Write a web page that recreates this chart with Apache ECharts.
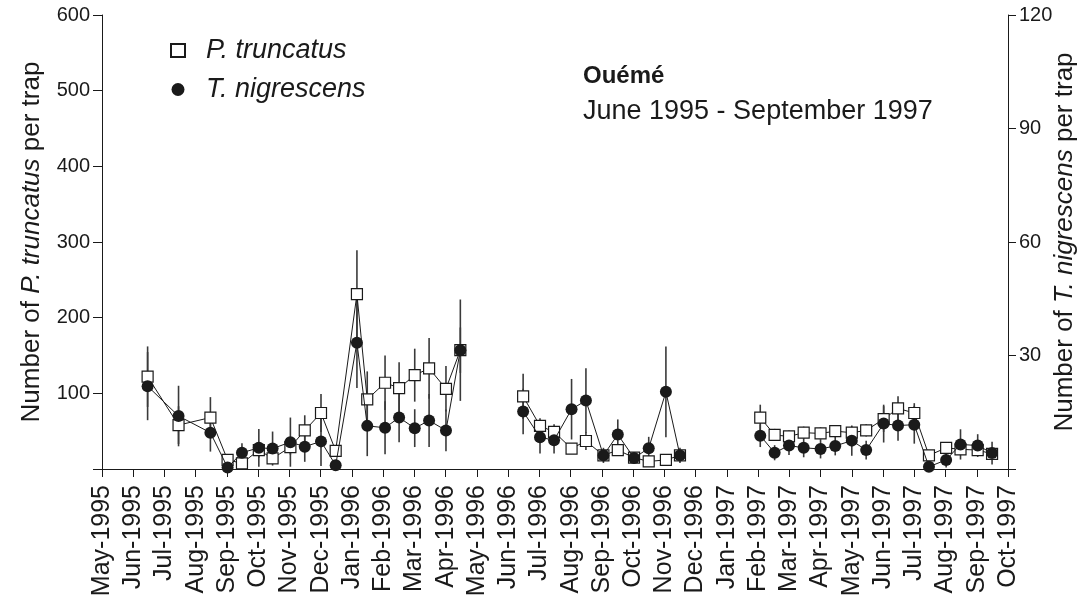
<!DOCTYPE html>
<html>
<head>
<meta charset="utf-8">
<script src="https://cdn.jsdelivr.net/npm/echarts@6/dist/echarts.min.js"></script>
<style>html,body{margin:0;padding:0;background:#fff}#c{width:1090px;height:616px}</style>
</head>
<body>
<div id="c"></div>
<script>
// Month tick labels (index 0 = May-1995)
const months = ['May-1995','Jun-1995','Jul-1995','Aug-1995','Sep-1995','Oct-1995','Nov-1995','Dec-1995',
  'Jan-1996','Feb-1996','Mar-1996','Apr-1996','May-1996','Jun-1996','Jul-1996','Aug-1996','Sep-1996',
  'Oct-1996','Nov-1996','Dec-1996','Jan-1997','Feb-1997','Mar-1997','Apr-1997','May-1997','Jun-1997',
  'Jul-1997','Aug-1997','Sep-1997','Oct-1997'];
// Sampling dates, in months since May-1995
const sampleX = [1.46,2.45,3.47,4.02,4.48,5.02,5.46,6.03,6.49,7.01,7.48,8.16,8.49,9.06,9.51,10.01,10.47,11.01,11.47,
  13.48,14.02,14.47,15.03,15.49,16.05,16.51,17.03,17.5,18.05,18.5,
  21.07,21.53,21.99,22.46,23.0,23.47,24.0,24.46,25.02,25.48,26.0,26.47,27.02,27.48,28.03,28.49];
// P. truncatus per trap (left axis) and its error
const truncatus = [122,58,68,12,7.5,25,14,29,51,74,24,231,92,114,107,124,133,106,157,
  96,57,49,27,37,18,25,15,10,12,18,
  68,45,43,48,47,50,48,51,66,80,74,18,28,26,25,20];
const truncatusErr = [40,25,27,5,4,10,6,10,20,25,5,58,37,36,34,35,40,30,67,
  30,10,10,5,12,3,6,3,3,3,4,
  17,8,8,8,8,8,8,8,17,16,13,4,5,5,5,5];
// T. nigrescens per trap (right axis) and its error
const nigrescens = [21.9,14.0,9.6,0.4,4.3,5.6,5.4,7.1,5.9,7.3,1.0,33.4,11.4,10.9,13.6,10.8,12.8,10.2,31.4,
  15.2,8.4,7.6,15.8,18.1,3.6,9.1,2.9,5.5,20.4,3.6,
  8.8,4.3,6.2,5.6,5.3,6.1,7.5,5.0,12.0,11.5,11.7,0.6,2.4,6.5,6.2,4.2];
const nigrescensErr = [9,8,5,0.5,2.5,5,4.5,6.5,4,6.5,1,12,8,7,6.5,5,7,5.5,6,
  6,4.3,3.5,8,8.5,2,4,1.5,3,12,2,
  3,2,2.5,2.5,2.5,2.5,4,2.5,5,4,5,1,2,4,3,3];

function lineData(vals){
  const out = [];
  for (let i = 0; i < sampleX.length; i++) {
    if (i > 0 && sampleX[i] - sampleX[i-1] > 1.5) out.push([(sampleX[i] + sampleX[i-1]) / 2, null]);
    out.push([sampleX[i], vals[i]]);
  }
  return out;
}
function errData(vals, errs){
  return sampleX.map((x, i) => [x, Math.max(0, vals[i] - errs[i]), vals[i] + errs[i]]);
}
function errRender(params, api){
  const x = api.value(0);
  const p1 = api.coord([x, api.value(1)]);
  const p2 = api.coord([x, api.value(2)]);
  return {type:'line', shape:{x1:p1[0], y1:p1[1], x2:p2[0], y2:p2[1]},
    style:{stroke:'#3a3a3a', lineWidth:1.6}};
}

const FONT = '"Liberation Sans", Arial, sans-serif';
const INK = '#1a1a1a';
const richName = {n:{fontSize:26, fontFamily:FONT, color:INK}, i:{fontSize:26, fontStyle:'italic', fontFamily:FONT, color:INK}};
const chart = echarts.init(document.getElementById('c'));
chart.setOption({
  animation:false,
  backgroundColor:'#fff',
  textStyle:{fontFamily:FONT, color:INK},
  grid:{left:102, right:82, top:15, bottom:147, containLabel:false, outerBoundsMode:'none'},
  title:{text:'Ouémé', subtext:'June 1995 - September 1997', left:578, top:59, itemGap:10,
    textStyle:{fontFamily:FONT, fontSize:24, fontWeight:'bold', color:INK},
    subtextStyle:{fontFamily:FONT, fontSize:27, color:INK}},
  legend:{orient:'vertical', left:165, top:32, itemGap:12, itemWidth:14, itemHeight:13,
    data:[{name:'P. truncatus', icon:'rect'},{name:'T. nigrescens', icon:'circle'}],
    textStyle:{fontFamily:FONT, fontSize:27, fontStyle:'italic', color:INK, padding:[0,0,0,16]}},
  xAxis:{type:'value', min:0, max:29, interval:1,
    axisLine:{lineStyle:{color:INK, width:1}},
    axisTick:{inside:false, length:8, lineStyle:{color:INK}},
    splitLine:{show:false},
    axisLabel:{rotate:90, margin:16, fontSize:25, color:INK, fontFamily:FONT,
      formatter:v => months[Math.round(v)] || ''}},
  yAxis:[
    {type:'value', min:0, max:600, interval:100, position:'left',
      axisLine:{show:true, lineStyle:{color:INK}},
      axisTick:{show:true, length:9, lineStyle:{color:INK}},
      splitLine:{show:false}, showMinLabel:false,
      axisLabel:{fontSize:20, color:INK, margin:12, fontFamily:FONT,
        formatter:v => v === 0 ? '' : String(v)},
      name:'{n|Number of }{i|P. truncatus}{n| per trap}', nameLocation:'middle', nameGap:57, nameRotate:90,
      nameMoveOverlap:false,
      nameTextStyle:{rich:richName}},
    {type:'value', min:0, max:120, interval:30, position:'right',
      axisLine:{show:true, lineStyle:{color:INK}},
      axisTick:{show:true, length:8, lineStyle:{color:INK}},
      splitLine:{show:false}, showMinLabel:false,
      axisLabel:{fontSize:20, color:INK, margin:11, fontFamily:FONT,
        formatter:v => v === 0 ? '' : String(v)},
      name:'{n|Number of }{i|T. nigrescens}{n| per trap}', nameLocation:'middle', nameGap:44, nameRotate:90,
      nameMoveOverlap:false,
      nameTextStyle:{rich:richName}}
  ],
  series:[
    {type:'custom', name:'errT', yAxisIndex:0, renderItem:errRender, data:errData(truncatus, truncatusErr), z:1, silent:true},
    {type:'custom', name:'errN', yAxisIndex:1, renderItem:errRender, data:errData(nigrescens, nigrescensErr), z:1, silent:true},
    {type:'line', name:'P. truncatus', yAxisIndex:0, data:lineData(truncatus), connectNulls:false,
      symbol:'rect', symbolSize:11, showAllSymbol:true,
      lineStyle:{color:INK, width:1},
      itemStyle:{color:'#fff', borderColor:INK, borderWidth:1.2}, z:3},
    {type:'line', name:'T. nigrescens', yAxisIndex:1, data:lineData(nigrescens), connectNulls:false,
      symbol:'circle', symbolSize:12, showAllSymbol:true,
      lineStyle:{color:INK, width:1},
      itemStyle:{color:INK, borderColor:INK, borderWidth:0}, z:4}
  ]
});
</script>
</body>
</html>
